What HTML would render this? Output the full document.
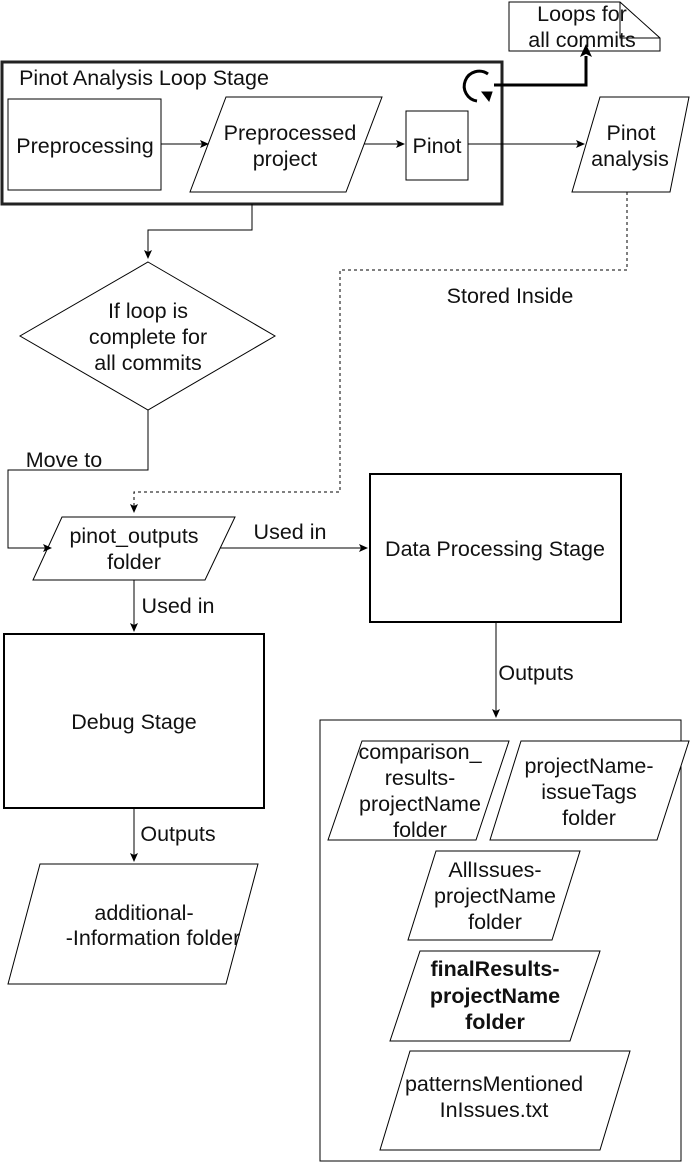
<!DOCTYPE html>
<html><head><style>html,body{margin:0;padding:0;background:#fff}svg{display:block}text{font-family:"Liberation Sans",Arial,sans-serif;font-size:21.5px;fill:#111}</style></head>
<body>
<svg width="690" height="1162" viewBox="0 0 690 1162" xmlns="http://www.w3.org/2000/svg">
<defs>
<marker id="a" markerWidth="10" markerHeight="10" refX="8" refY="5" orient="auto" markerUnits="userSpaceOnUse"><path d="M0,1 L9,5 L0,9 L2,5 z" fill="#000"/></marker>
<marker id="b" markerWidth="14" markerHeight="14" refX="7" refY="12" orient="0" markerUnits="userSpaceOnUse"><path d="M1,13 L7,0 L13,13 L7,10 z" fill="#000"/></marker>
</defs>
<g fill="#fff" stroke="#000" stroke-width="1">
<path d="M509,2 H620 L660,38 V51 H509 Z"/>
<path d="M620,2 V38 H660" fill="none"/>
<rect x="2" y="62" width="500" height="142" stroke-width="3" stroke="#222"/>
<rect x="8" y="99" width="153" height="91"/>
<path d="M226,97 H382 L346,192 H190 Z"/>
<rect x="406" y="111" width="62" height="69"/>
<path d="M600,97 H689 L670,192 H572 Z"/>
<path d="M148,262 L275,336 L148,410 L20,336 Z"/>
<path d="M62,517 H235 L205,580 H33 Z"/>
<rect x="370" y="474" width="251" height="148" stroke-width="2"/>
<rect x="4" y="634" width="260" height="174" stroke-width="2"/>
<path d="M40,864 H258 L226,984 H8 Z"/>
<rect x="320" y="720" width="361" height="441"/>
<path d="M362,741 H509 L476,840 H328 Z"/>
<path d="M521,741 H689 L657,840 H490 Z"/>
<path d="M436,851 H580 L552,940 H408 Z"/>
<path d="M420,951 H600 L570,1041 H390 Z"/>
<path d="M410,1051 H630 L600,1150 H380 Z"/>
</g>
<g fill="none" stroke="#000" stroke-width="1">
<path d="M161,144 H208" marker-end="url(#a)"/>
<path d="M364,144 H404" marker-end="url(#a)"/>
<path d="M468,144 H584" marker-end="url(#a)"/>
<path d="M252,204 V230 H148 V258" marker-end="url(#a)"/>
<path d="M148,410 V470 H8 V548 H51" marker-end="url(#a)"/>
<path d="M627,192 V270 H340 V492 H134 V512" stroke-dasharray="3,3" marker-end="url(#a)"/>
<path d="M220,548 H367" marker-end="url(#a)"/>
<path d="M496,622 V717" marker-end="url(#a)"/>
<path d="M134,580 V631" marker-end="url(#a)"/>
<path d="M134,808 V861" marker-end="url(#a)"/>
<path d="M494,85 H586 V56" stroke-width="3" marker-end="url(#b)"/>
<path d="M477,101 A15,15 0 1 1 488,74" stroke-width="3"/>
<path d="M482,92 L492,92 L489,101 Z" fill="#000" stroke-width="1"/>
</g>
<g text-anchor="middle">
<text x="582" y="21">Loops for</text>
<text x="582" y="47">all commits</text>
<text x="144" y="85">Pinot Analysis Loop Stage</text>
<text x="85" y="153">Preprocessing</text>
<text x="290" y="140">Preprocessed</text>
<text x="285" y="166">project</text>
<text x="437" y="153">Pinot</text>
<text x="631" y="140">Pinot</text>
<text x="630" y="166">analysis</text>
<text x="148" y="318">If loop is</text>
<text x="148" y="344">complete for</text>
<text x="148" y="370">all commits</text>
<text x="510" y="303">Stored Inside</text>
<text x="64" y="467">Move to</text>
<text x="134" y="543">pinot_outputs</text>
<text x="134" y="569">folder</text>
<text x="290" y="539">Used in</text>
<text x="495" y="556">Data Processing Stage</text>
<text x="178" y="613">Used in</text>
<text x="134" y="729">Debug Stage</text>
<text x="536" y="680">Outputs</text>
<text x="178" y="841">Outputs</text>
<text x="144" y="920">additional-</text>
<text x="153" y="945">-Information folder</text>
<text x="420" y="759">comparison_</text>
<text x="420" y="785">results-</text>
<text x="420" y="811">projectName</text>
<text x="420" y="837">folder</text>
<text x="589" y="773">projectName-</text>
<text x="589" y="799">issueTags</text>
<text x="589" y="825">folder</text>
<text x="495" y="877">AllIssues-</text>
<text x="495" y="903">projectName</text>
<text x="495" y="929">folder</text>
<text x="495" y="976" font-weight="bold">finalResults-</text>
<text x="495" y="1003" font-weight="bold">projectName</text>
<text x="495" y="1029" font-weight="bold">folder</text>
<text x="494" y="1091">patternsMentioned</text>
<text x="494" y="1117">InIssues.txt</text>
</g>
</svg>
</body></html>
